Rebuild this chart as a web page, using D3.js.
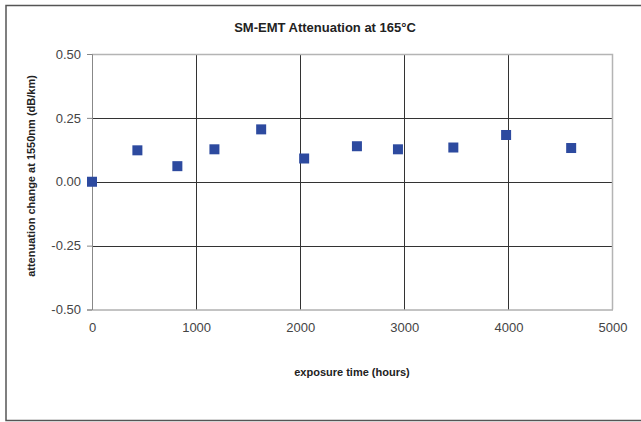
<!DOCTYPE html>
<html>
<head>
<meta charset="utf-8">
<script src="https://cdn.jsdelivr.net/npm/d3@7"></script>
<style>
  body { margin: 0; background: #fff; }
  svg { display: block; font-family: "Liberation Sans", Arial, sans-serif; }
</style>
</head>
<body>
<div id="chart"></div>
<script>
// data
var hours = [0, 436, 820, 1176, 1625, 2038, 2545, 2939, 3471, 3978, 4603];
var attenuation = [0.000, 0.123, 0.061, 0.127, 0.205, 0.091, 0.139, 0.127, 0.134, 0.183, 0.132];
var xTicks = [0, 1000, 2000, 3000, 4000, 5000];
var yTicks = [-0.50, -0.25, 0.00, 0.25, 0.50];

var W = 641, H = 422;
var plot = {left: 92, right: 612.5, top: 54, bottom: 309.5};

var svg = d3.select("#chart")
  .append("svg")
    .attr("width", W)
    .attr("height", H);

// chart area border
svg.append("rect")
  .attr("x", 6).attr("y", 5.5)
  .attr("width", 640).attr("height", 415)
  .attr("fill", "#fff")
  .attr("stroke", "#555")
  .attr("stroke-width", 1.5);

var x = d3.scaleLinear()
  .domain([0, 5000])
  .range([plot.left, plot.right]);

var y = d3.scaleLinear()
  .domain([-0.5, 0.5])
  .range([plot.bottom, plot.top]);

// gridlines
svg.append("g")
  .selectAll("line")
  .data(xTicks.filter(d => d > 0 && d < 5000))
  .enter()
  .append("line")
    .attr("x1", d => Math.round(x(d)) + 0.5)
    .attr("x2", d => Math.round(x(d)) + 0.5)
    .attr("y1", plot.top)
    .attr("y2", plot.bottom)
    .attr("stroke", "#333");

svg.append("g")
  .selectAll("line")
  .data(yTicks.filter(d => d > -0.5 && d < 0.5))
  .enter()
  .append("line")
    .attr("x1", plot.left)
    .attr("x2", plot.right)
    .attr("y1", d => Math.round(y(d)) + 0.5)
    .attr("y2", d => Math.round(y(d)) + 0.5)
    .attr("stroke", "#333");

// plot area border (top / right)
svg.append("path")
  .attr("d", "M" + plot.left + "," + (plot.top + 0.5) + "H" + plot.right + "V" + plot.bottom)
  .attr("fill", "none")
  .attr("stroke", "#b4b4b4")
  .attr("stroke-width", 1.5);

// Y axis
var yAxis = svg.append("g")
  .attr("transform", "translate(" + plot.left + ",0)")
  .call(d3.axisLeft(y).tickValues(yTicks).tickSize(5).tickPadding(6)
    .tickFormat(d3.format(".2f")));
yAxis.select(".domain").attr("stroke", "#888");
yAxis.selectAll(".tick line").attr("stroke", "#888");
yAxis.selectAll("text")
  .attr("fill", "#444")
  .style("font-size", "13px")
  .text(d => d3.format(".2f")(d).replace("−", "-"));

// X axis
var xAxis = svg.append("g")
  .attr("transform", "translate(0," + plot.bottom + ")")
  .call(d3.axisBottom(x).tickValues(xTicks).tickSize(0).tickPadding(13)
    .tickFormat(d3.format("d")));
xAxis.select(".domain").attr("stroke", "#888");
xAxis.selectAll("text")
  .attr("fill", "#444")
  .style("font-size", "13px");

// title
svg.append("text")
  .attr("x", 325)
  .attr("y", 32)
  .attr("text-anchor", "middle")
  .style("font-size", "13px")
  .style("font-weight", "bold")
  .attr("fill", "#222")
  .text("SM-EMT Attenuation at 165°C");

// axis titles
svg.append("text")
  .attr("x", 352)
  .attr("y", 376)
  .attr("text-anchor", "middle")
  .style("font-size", "11px")
  .style("font-weight", "bold")
  .attr("fill", "#222")
  .text("exposure time (hours)");

svg.append("text")
  .attr("transform", "translate(35,176) rotate(-90)")
  .attr("text-anchor", "middle")
  .style("font-size", "11px")
  .style("font-weight", "bold")
  .attr("fill", "#222")
  .text("attenuation change at 1550nm (dB/km)");

// dots
svg.append("g")
  .selectAll("rect")
  .data(hours.map((h, i) => ({h: h, v: attenuation[i]})))
  .enter()
  .append("rect")
    .attr("x", d => x(d.h) - 5)
    .attr("y", d => y(d.v) - 5)
    .attr("width", 10)
    .attr("height", 10)
    .attr("fill", "#2d4a9f");
</script>
</body>
</html>
